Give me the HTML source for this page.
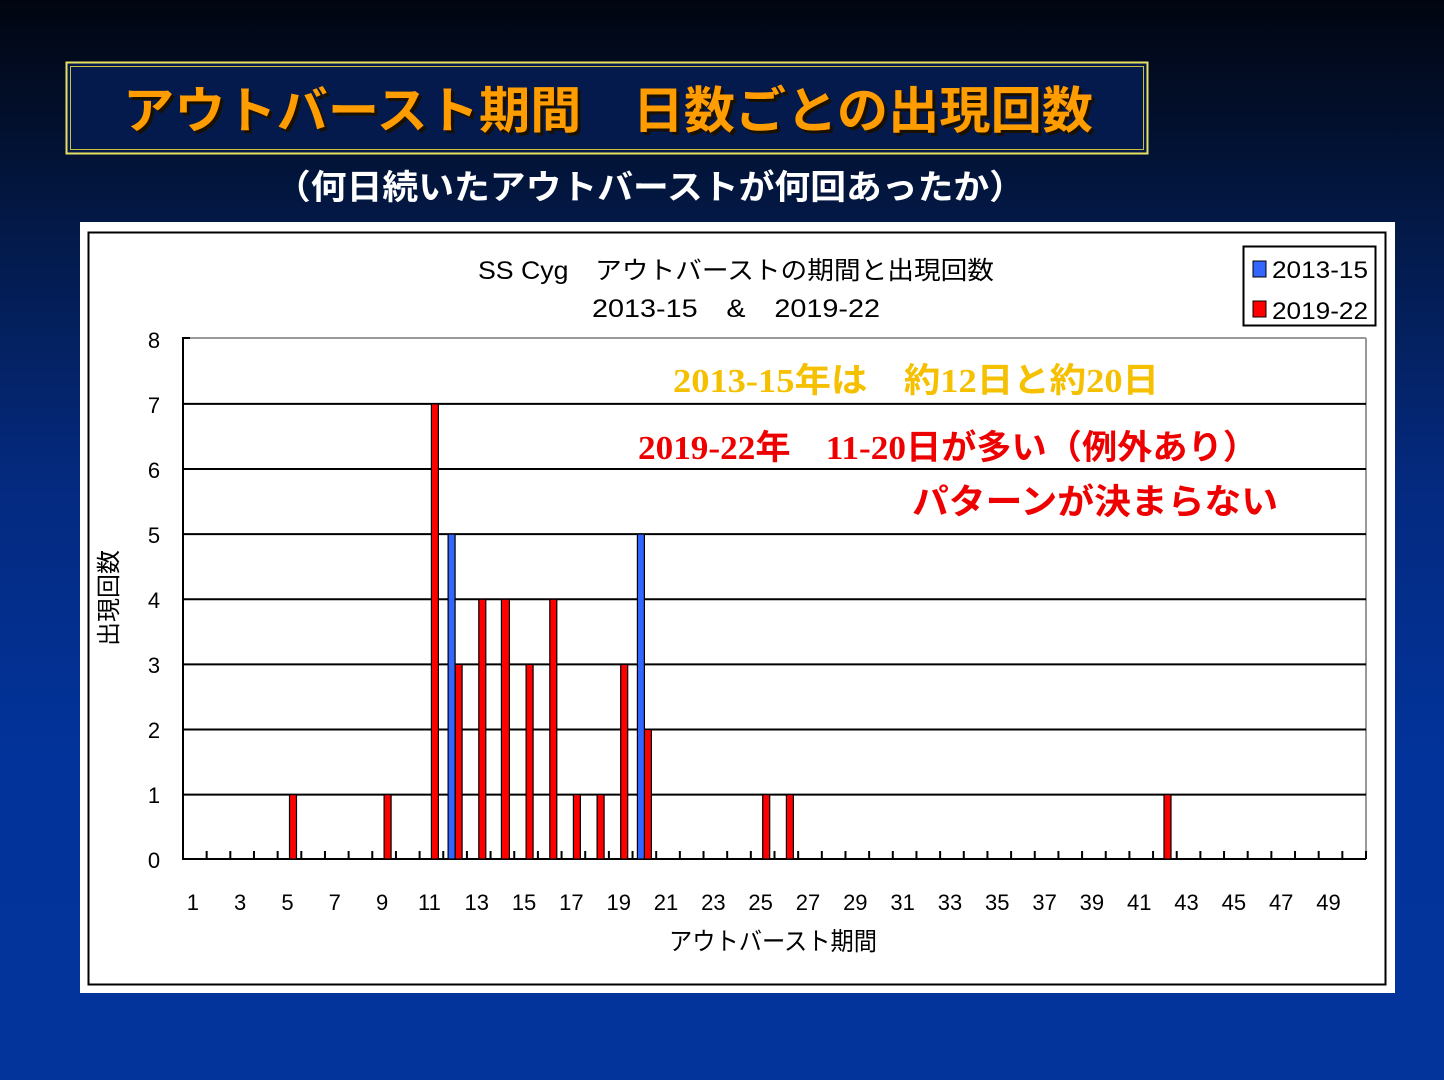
<!DOCTYPE html>
<html><head><meta charset="utf-8"><style>
html,body{margin:0;padding:0;width:1444px;height:1080px;overflow:hidden}
body{background:linear-gradient(180deg,#010510 0%,#031a4a 22%,#042a80 45%,#02339a 70%,#02349c 100%)}
svg{position:absolute;left:0;top:0}
</style></head><body>
<svg width="1444" height="1080" viewBox="0 0 1444 1080" xmlns="http://www.w3.org/2000/svg">
<!-- Title box -->
<rect x="66.5" y="62.5" width="1081" height="91" fill="#041a4c" stroke="#e8e060" stroke-width="2"/>
<rect x="70.5" y="66.5" width="1073" height="83" fill="none" stroke="#c8c040" stroke-width="1"/>
<text x="608" y="128" text-anchor="middle" font-family="'Liberation Sans','Noto Sans CJK JP',sans-serif" font-size="50" font-weight="bold" fill="#1a1000" textLength="970" lengthAdjust="spacingAndGlyphs" transform="translate(3,3)">アウトバースト期間　日数ごとの出現回数</text>
<text x="608" y="128" text-anchor="middle" font-family="'Liberation Sans','Noto Sans CJK JP',sans-serif" font-size="50" font-weight="bold" fill="#ff9c00" textLength="970" lengthAdjust="spacingAndGlyphs">アウトバースト期間　日数ごとの出現回数</text>
<text x="650" y="199" text-anchor="middle" font-family="'Liberation Sans','Noto Sans CJK JP',sans-serif" font-size="34" font-weight="bold" fill="#ffffff" textLength="750" lengthAdjust="spacingAndGlyphs">（何日続いたアウトバーストが何回あったか）</text>
<!-- Chart panel -->
<rect x="80" y="222" width="1315" height="771" fill="#fff"/>
<rect x="88.5" y="232.5" width="1297" height="752" fill="none" stroke="#000" stroke-width="2"/>
<g font-family="'Liberation Sans','Noto Sans CJK JP',sans-serif" fill="#000">
<text x="736" y="279" text-anchor="middle" font-size="25" textLength="516" lengthAdjust="spacingAndGlyphs">SS Cyg　アウトバーストの期間と出現回数</text>
<text x="736" y="317" text-anchor="middle" font-size="25" textLength="288" lengthAdjust="spacingAndGlyphs">2013-15　&amp;　2019-22</text>
</g>
<!-- legend -->
<rect x="1243.5" y="246.5" width="132" height="79" fill="#fff" stroke="#000" stroke-width="2"/>
<rect x="1253" y="261" width="13" height="16" fill="#3366ff" stroke="#000"/>
<rect x="1253" y="301" width="13" height="16" fill="#ff0000" stroke="#000"/>
<g font-family="'Liberation Sans',sans-serif" font-size="24" fill="#000">
<text x="1272" y="278" textLength="96" lengthAdjust="spacingAndGlyphs">2013-15</text>
<text x="1272" y="319" textLength="96" lengthAdjust="spacingAndGlyphs">2019-22</text>
</g>
<!-- plot -->
<line x1="183" y1="338" x2="1366" y2="338" stroke="#999" stroke-width="2"/>
<line x1="1366" y1="338" x2="1366" y2="859" stroke="#999" stroke-width="2"/>
<g stroke="#000" stroke-width="2">
<line x1="183" y1="403.9" x2="1366" y2="403.9"/>
<line x1="183" y1="469" x2="1366" y2="469"/>
<line x1="183" y1="534.1" x2="1366" y2="534.1"/>
<line x1="183" y1="599.3" x2="1366" y2="599.3"/>
<line x1="183" y1="664.4" x2="1366" y2="664.4"/>
<line x1="183" y1="729.5" x2="1366" y2="729.5"/>
<line x1="183" y1="794.6" x2="1366" y2="794.6"/>
<line x1="183" y1="859" x2="1366" y2="859"/>
<line x1="183" y1="337" x2="183" y2="860"/>
<line x1="183" y1="338" x2="190" y2="338"/>
</g>
<g stroke="#000" stroke-width="2" id="ticks"></g>
<!-- annotations -->
<g font-family="'Liberation Serif','Noto Sans CJK JP',serif" font-weight="bold">
<text x="673" y="392" font-size="34" fill="#f5c000" textLength="486" lengthAdjust="spacingAndGlyphs">2013-15年は　約12日と約20日</text>
<text x="638" y="459" font-size="34" fill="#ee0000" textLength="620" lengthAdjust="spacingAndGlyphs">2019-22年　11-20日が多い（例外あり）</text>
</g>
<text x="912" y="514" font-family="'Liberation Sans','Noto Sans CJK JP',sans-serif" font-weight="bold" font-size="35" fill="#ee0000" textLength="366" lengthAdjust="spacingAndGlyphs">パターンが決まらない</text>
<!-- bars -->
<g stroke="#000" stroke-width="1.2" fill="#ff0000">
<rect x="289.5" y="794.6" width="7" height="64.4"/>
<rect x="384.1" y="794.6" width="7" height="64.4"/>
<rect x="431.4" y="403.9" width="7" height="455.1"/>
<rect x="455.1" y="664.4" width="7" height="194.6"/>
<rect x="478.8" y="599.3" width="7" height="259.7"/>
<rect x="501.4" y="599.3" width="8" height="259.7"/>
<rect x="526.1" y="664.4" width="7" height="194.6"/>
<rect x="549.8" y="599.3" width="7" height="259.7"/>
<rect x="573.4" y="794.6" width="7" height="64.4"/>
<rect x="597.1" y="794.6" width="7" height="64.4"/>
<rect x="620.7" y="664.4" width="7" height="194.6"/>
<rect x="644.4" y="729.5" width="7" height="129.5"/>
<rect x="762.7" y="794.6" width="7" height="64.4"/>
<rect x="786.4" y="794.6" width="7" height="64.4"/>
<rect x="1164.0" y="794.6" width="7" height="64.4"/>
</g>
<g stroke="#000" stroke-width="1.2" fill="#3366ff">
<rect x="448.1" y="534.1" width="7" height="324.9"/>
<rect x="637.4" y="534.1" width="7" height="324.9"/>
</g>
<!-- y labels -->
<g font-family="'Liberation Sans',sans-serif" font-size="22" fill="#000" text-anchor="middle">
<text x="154" y="348">8</text><text x="154" y="413">7</text><text x="154" y="478">6</text>
<text x="154" y="543">5</text><text x="154" y="608">4</text><text x="154" y="673">3</text>
<text x="154" y="738">2</text><text x="154" y="803">1</text><text x="154" y="868">0</text>
</g>
<g id="xl" font-family="'Liberation Sans',sans-serif" font-size="22" fill="#000" text-anchor="middle"></g>
<text transform="translate(117,598) rotate(-90)" text-anchor="middle" font-family="'Liberation Sans','Noto Sans CJK JP',sans-serif" font-size="24" fill="#000">出現回数</text>
<text x="773" y="950" text-anchor="middle" font-family="'Liberation Sans','Noto Sans CJK JP',sans-serif" font-size="25" fill="#000" textLength="208" lengthAdjust="spacingAndGlyphs">アウトバースト期間</text>
</svg>
<script>
var ns="http://www.w3.org/2000/svg",t=document.getElementById("ticks"),xl=document.getElementById("xl");
for(var k=1;k<=50;k++){var x=183+k*23.66;var l=document.createElementNS(ns,"line");l.setAttribute("x1",x);l.setAttribute("x2",x);l.setAttribute("y1",851);l.setAttribute("y2",859);t.appendChild(l);}
for(var i=1;i<=49;i+=2){var c=183+(i-0.5)*23.66-2;var e=document.createElementNS(ns,"text");e.setAttribute("x",c);e.setAttribute("y",910);e.textContent=i;xl.appendChild(e);}
</script>
</body></html>
